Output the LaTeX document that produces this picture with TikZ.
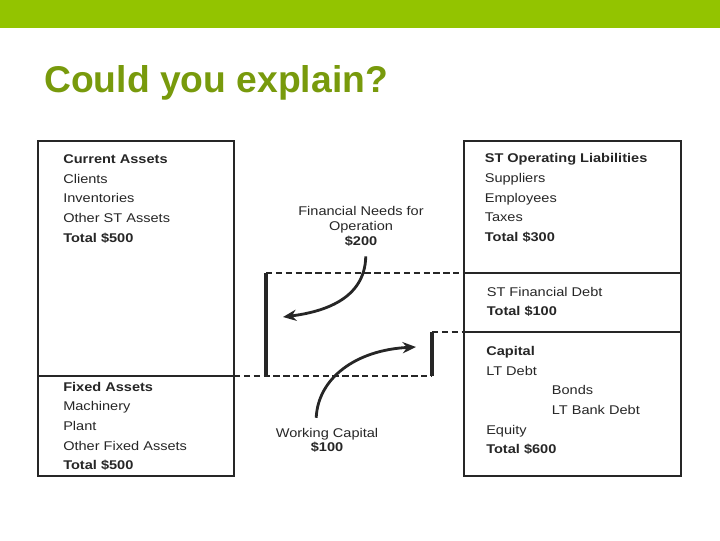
\documentclass[tikz,border=0pt]{standalone}
\usepackage{fontspec}
\setmainfont{Liberation Sans}
\newfontfamily\boxfont[FakeStretch=1.15]{Liberation Sans}
\usetikzlibrary{arrows.meta, positioning}
\definecolor{barGreen}{HTML}{93C400}
\definecolor{titleGreen}{HTML}{789A0C}
\tikzstyle{panel} = [rectangle, draw=black!85, line width=0.9pt, anchor=north west, inner sep=0pt, outer sep=0pt]
\tikzstyle{entry} = [anchor=north west, inner sep=0pt, align=left, text=black!85, font=\boxfont\fontsize{9}{14}\selectfont]
\tikzstyle{callout} = [anchor=north, inner sep=0pt, align=center, text=black!85, font=\boxfont\fontsize{9}{10.6}\selectfont]
\tikzstyle{gap} = [dash pattern=on 4.5pt off 2.5pt, line width=1.2pt, black!85]
\tikzstyle{bar} = [line width=3pt, black!85]
\tikzstyle{arrow} = [line width=2pt, black!85, -{Stealth[length=9.5pt, width=8pt]}]

\begin{document}
\begin{tikzpicture}[x=0.025cm, y=-0.025cm]
\useasboundingbox (0,0) rectangle (720,540);

% Header
\fill[barGreen] (0,0) rectangle (720,28);
\node (title) [anchor=base west, inner sep=0pt, text=titleGreen, font=\bfseries\fontsize{26.5}{30}\selectfont] at (44,92) {Could you explain?};

% Assets side
\node (curAssets) [panel, minimum width=4.9cm, minimum height=5.875cm] at (38,141) {};
\node (fixAssets) [panel, minimum width=4.9cm, minimum height=2.5cm] at (38,376) {};

% Liabilities side
\node (stOp) [panel, minimum width=5.425cm, minimum height=3.3cm] at (464,141) {};
\node (stFin) [panel, minimum width=5.425cm, minimum height=1.475cm] at (464,273) {};
\node (capital) [panel, minimum width=5.425cm, minimum height=3.6cm] at (464,332) {};

% Texts
\node (curTxt) [entry] at (63,154.2)
{\textbf{Current Assets}\\Clients\\Inventories\\Other ST Assets\\\textbf{Total \$500}};
\node (fixTxt) [entry] at (63,381.6)
{\textbf{Fixed Assets}\\Machinery\\Plant\\Other Fixed Assets\\\textbf{Total \$500}};
\node (stOpTxt) [entry] at (484.5,153.2)
{\textbf{ST Operating Liabilities}\\Suppliers\\Employees\\Taxes\\\textbf{Total \$300}};
\node (stFinTxt) [entry] at (486.5,286.6)
{ST Financial Debt\\\textbf{Total \$100}};
\node (capTxt) [entry] at (486,346)
{\textbf{Capital}\\LT Debt\\\hspace*{1.64cm}Bonds\\\hspace*{1.64cm}LT Bank Debt\\Equity\\\textbf{Total \$600}};

% Gaps
\coordinate (fnoTop) at (266,273);
\coordinate (fnoBot) at (266,376);
\coordinate (wcTop) at (432,332);
\coordinate (wcBot) at (432,376);
\draw [gap] (fnoTop) -- (stFin.north west);
\draw [gap] (fixAssets.north east) -- (wcBot);
\draw [gap] (wcTop) -- (capital.north west);
\draw [bar] (fnoTop) -- (fnoBot);
\draw [bar] (wcTop) -- (wcBot);

% Callouts
\node (fno) [callout] at (361,206)
{Financial Needs for\\Operation\\\textbf{\$200}};
\node (wc) [callout] at (327,427.6)
{Working Capital\\\textbf{\$100}};
\coordinate (fnoTip) at (283,317);
\coordinate (wcTip) at (416,347);

% Arrows
\draw [arrow, shorten <=7pt] ([xshift=3.5pt]fno.south) .. controls (365,300) and (322,312) .. (fnoTip);
\draw [arrow, shorten <=7pt] ([xshift=-8pt]wc.north) .. controls (318,378) and (356,350) .. (wcTip);

\end{tikzpicture}
\end{document}
